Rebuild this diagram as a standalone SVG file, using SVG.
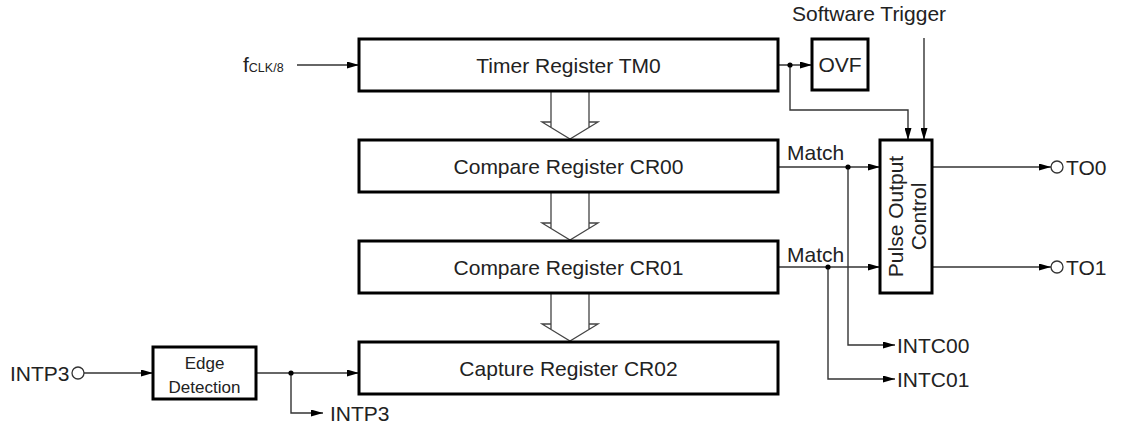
<svg xmlns="http://www.w3.org/2000/svg" width="1121" height="429" viewBox="0 0 1121 429">
<style>
.box{fill:#fff;stroke:#000;stroke-width:3}
.ln{fill:none;stroke:#333;stroke-width:1.4}
.hol{fill:none;stroke:#444;stroke-width:1.3}
.t{font-family:"Liberation Sans",Arial,sans-serif;font-size:21px;fill:#222}
.s{font-family:"Liberation Sans",Arial,sans-serif;font-size:17px;fill:#222}
.m{text-anchor:middle}
.dot{fill:#000}
.pin{fill:#fff;stroke:#333;stroke-width:1.3}
</style>
<defs>
<marker id="ah" viewBox="0 0 12 7" refX="12" refY="3.5" markerWidth="12" markerHeight="7" markerUnits="userSpaceOnUse" orient="auto">
<path d="M0,0 L12,3.5 L0,7 z" fill="#000"/>
</marker>
</defs>

<g id="connectors">
<path class="ln" d="M297,65 H359" marker-end="url(#ah)"/>
<path class="ln" d="M778,65 H812" marker-end="url(#ah)"/>
<path class="ln" d="M790,65 V110 H908 V140" marker-end="url(#ah)"/>
<path class="ln" d="M924,38 V140" marker-end="url(#ah)"/>
<path class="ln" d="M778,167 H880" marker-end="url(#ah)"/>
<path class="ln" d="M848,167 V345 H895" marker-end="url(#ah)"/>
<path class="ln" d="M778,267 H880" marker-end="url(#ah)"/>
<path class="ln" d="M828,267 V379 H895" marker-end="url(#ah)"/>
<path class="ln" d="M932,167 H1051" marker-end="url(#ah)"/>
<path class="ln" d="M932,267 H1051" marker-end="url(#ah)"/>
<path class="ln" d="M84,373 H153" marker-end="url(#ah)"/>
<path class="ln" d="M256,373 H359" marker-end="url(#ah)"/>
<path class="ln" d="M291,373 V413 H323" marker-end="url(#ah)"/>
<circle class="dot" cx="790" cy="65" r="2.6"/>
<circle class="dot" cx="848" cy="167" r="2.6"/>
<circle class="dot" cx="828" cy="267" r="2.6"/>
<circle class="dot" cx="291" cy="373" r="2.6"/>
<circle class="pin" cx="1057" cy="167" r="6"/>
<circle class="pin" cx="1057" cy="267" r="6"/>
<circle class="pin" cx="78" cy="373" r="6"/>
<!-- hollow bus arrows -->
<path class="hol" d="M551,92 V127 M589,92 V127 M551,122 H542 L570,139 L598,122 H589"/>
<path class="hol" d="M551,193 V228 M589,193 V228 M551,223 H542 L570,240 L598,223 H589"/>
<path class="hol" d="M551,294 V329 M589,294 V329 M551,324 H542 L570,341 L598,324 H589"/>
<text class="t" x="787" y="160">Match</text>
<text class="t" x="787" y="262">Match</text>
</g>

<g id="fclk">
<text class="t" x="243" y="72">f<tspan style="font-size:12.5px">CLK/8</tspan></text>
</g>
<g id="tm0">
<rect class="box" x="359" y="39" width="419" height="52"/>
<text class="t m" x="568.5" y="72.5">Timer Register TM0</text>
</g>
<g id="cr00">
<rect class="box" x="359" y="140" width="419" height="52"/>
<text class="t m" x="568.5" y="173.5">Compare Register CR00</text>
</g>
<g id="cr01">
<rect class="box" x="359" y="241" width="419" height="52"/>
<text class="t m" x="568.5" y="274.5">Compare Register CR01</text>
</g>
<g id="cr02">
<rect class="box" x="359" y="342" width="419" height="52"/>
<text class="t m" x="568.5" y="375.5">Capture Register CR02</text>
</g>
<g id="ovf">
<rect class="box" x="812" y="39" width="56" height="51"/>
<text class="t m" x="840" y="72">OVF</text>
</g>
<g id="swtrig">
<text class="t" x="792" y="21">Software Trigger</text>
</g>
<g id="poc">
<rect class="box" x="880" y="140" width="52" height="153"/>
<g transform="translate(906,216.5) rotate(-90)">
<text class="t m" x="0" y="-3">Pulse Output</text>
<text class="t m" x="0" y="20">Control</text>
</g>
</g>
<g id="edge">
<rect class="box" x="153" y="347" width="103" height="52"/>
<text class="s m" x="204.5" y="369">Edge</text>
<text class="s m" x="204.5" y="393">Detection</text>
</g>
<g id="to0"><text class="t" x="1066" y="174.5">TO0</text></g>
<g id="to1"><text class="t" x="1066" y="274.5">TO1</text></g>
<g id="intc00"><text class="t" x="897" y="352.5">INTC00</text></g>
<g id="intc01"><text class="t" x="897" y="386.5">INTC01</text></g>
<g id="intp3in"><text class="t" x="10" y="380.5">INTP3</text></g>
<g id="intp3out"><text class="t" x="330" y="420.5">INTP3</text></g>
</svg>
